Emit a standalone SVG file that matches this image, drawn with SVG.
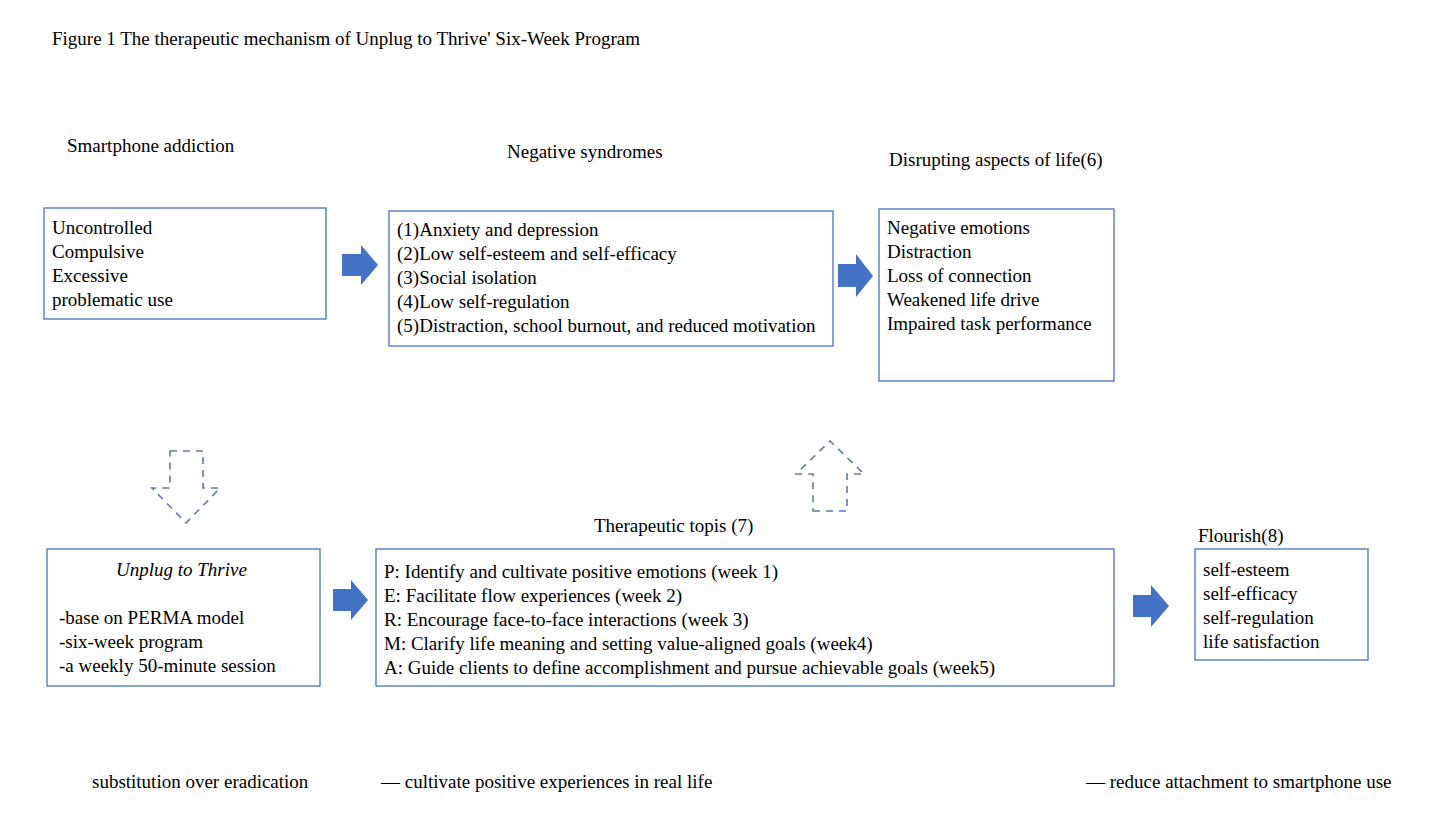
<svg xmlns="http://www.w3.org/2000/svg" width="1443" height="835" viewBox="0 0 1443 835">
<style>
text{font-family:"Liberation Serif",serif;font-size:19px;fill:#000}
.box{fill:#fff;stroke:#4472C4;stroke-width:1.3}
.blk{fill:#4472C4}
.dash{fill:none;stroke:#5B7BB5;stroke-width:1.6;stroke-dasharray:7,6}
</style>
<rect width="1443" height="835" fill="#fff"/>
<text x="52" y="45">Figure 1 The therapeutic mechanism of Unplug to Thrive' Six-Week Program</text>
<text x="67" y="152">Smartphone addiction</text>
<text x="507" y="158">Negative syndromes</text>
<text x="889" y="166">Disrupting aspects of life(6)</text>
<g id="n1"><rect class="box" x="44" y="208" width="282" height="111"/>
<text x="52" y="234">Uncontrolled</text><text x="52" y="258">Compulsive</text><text x="52" y="282">Excessive</text><text x="52" y="306">problematic use</text></g>
<g id="n2"><rect class="box" x="389" y="211" width="444" height="135"/>
<text x="397" y="236">(1)Anxiety and depression</text><text x="397" y="260">(2)Low self-esteem and self-efficacy</text><text x="397" y="284">(3)Social isolation</text><text x="397" y="308">(4)Low self-regulation</text><text x="397" y="332">(5)Distraction, school burnout, and reduced motivation</text></g>
<g id="n3"><rect class="box" x="879" y="209" width="235" height="172"/>
<text x="887" y="234">Negative emotions</text><text x="887" y="258">Distraction</text><text x="887" y="282">Loss of connection</text><text x="887" y="306">Weakened life drive</text><text x="887" y="330">Impaired task performance</text></g>
<text x="594" y="532">Therapeutic topis (7)</text>
<text x="1198" y="542">Flourish(8)</text>
<g id="n4"><rect class="box" x="47" y="549" width="273" height="137"/>
<text x="116" y="576" font-style="italic">Unplug to Thrive</text>
<text x="59" y="624">-base on PERMA model</text><text x="59" y="648">-six-week program</text><text x="59" y="672">-a weekly 50-minute session</text></g>
<g id="n5"><rect class="box" x="376" y="549" width="738" height="137"/>
<text x="384" y="578">P: Identify and cultivate positive emotions (week 1)</text>
<text x="384" y="602">E: Facilitate flow experiences (week 2)</text>
<text x="384" y="626">R: Encourage face-to-face interactions (week 3)</text>
<text x="384" y="650">M: Clarify life meaning and setting value-aligned goals (week4)</text>
<text x="384" y="674">A: Guide clients to define accomplishment and pursue achievable goals (week5)</text></g>
<g id="n6"><rect class="box" x="1195" y="549" width="173" height="111"/>
<text x="1203" y="576">self-esteem</text><text x="1203" y="600">self-efficacy</text><text x="1203" y="624">self-regulation</text><text x="1203" y="648">life satisfaction</text></g>
<g id="connectors">
<polygon class="blk" points="342,254 361,254 361,245 378,265 361,285 361,276 342,276"/>
<polygon class="blk" points="838,264 856,264 856,254 873,276 856,297 856,287 838,287"/>
<polygon class="blk" points="333,589 351,589 351,580 368,600 351,620 351,611 333,611"/>
<polygon class="blk" points="1133,595 1151,595 1151,585 1169,606 1151,627 1151,617 1133,617"/>
<polygon class="dash" points="170,451 203,451 203,488 220,488 186,523 152,488 170,488"/>
<polygon class="dash" points="813,511 847,511 847,474 864,474 830,441 796,474 813,474"/>
</g>
<text x="92" y="788">substitution over eradication</text>
<text x="381" y="788">— cultivate positive experiences in real life</text>
<text x="1086" y="788">— reduce attachment to smartphone use</text>
</svg>
